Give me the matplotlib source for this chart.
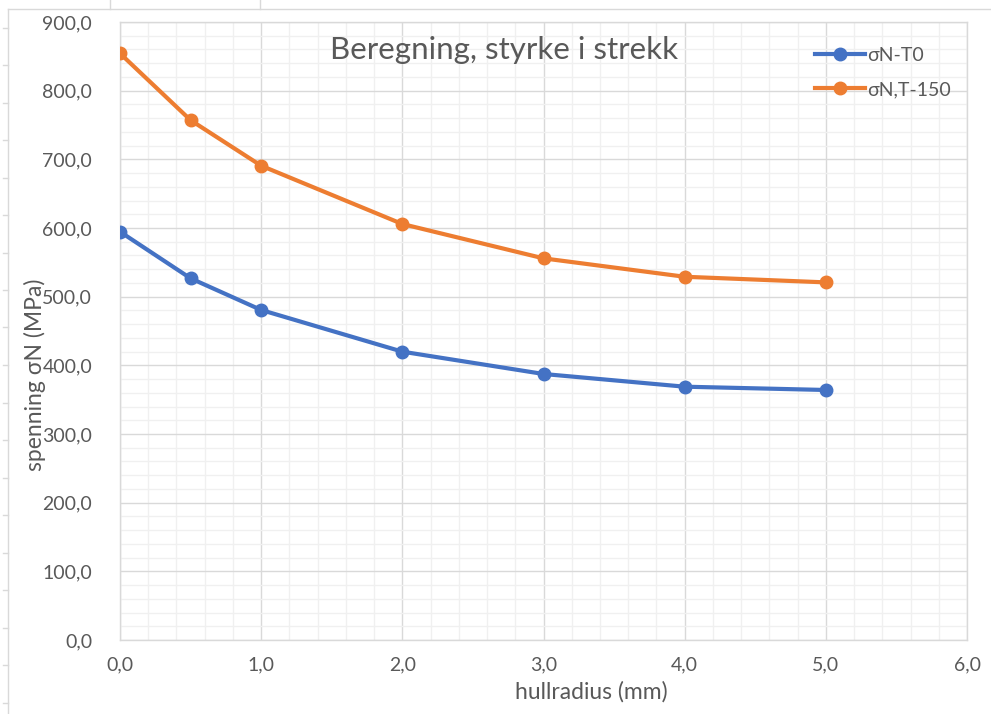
import matplotlib.pyplot as plt
import numpy as np
from matplotlib.ticker import MultipleLocator, FuncFormatter
from matplotlib.lines import Line2D

# hole radius (mm) and nominal stress (MPa)
radius = [0.0, 0.5, 1.0, 2.0, 3.0, 4.0, 5.0]
sigma_T0 = [594.6, 526.7, 480.6, 419.9, 387.4, 368.9, 364.1]
sigma_T150 = [854.3, 757.0, 690.7, 605.8, 555.8, 529.0, 520.8]
series_names = ['σN-T0', 'σN,T-150']

plt.rcParams['font.family'] = ['Lato', 'DejaVu Sans']
grey = '#595959'
W, H = 991, 714

fig = plt.figure(figsize=(W/100, H/100), dpi=100)
ax = fig.add_axes([120/W, 1-640/H, (967-120)/W, (640-22)/H])

ax.plot(radius, sigma_T0, '-o', color='#4472C4', lw=3, ms=9, label=series_names[0], zorder=3)
ax.plot(radius, sigma_T150, '-o', color='#ED7D31', lw=3, ms=9, label=series_names[1], zorder=3)

ax.set_xlim(0, 6)
ax.set_ylim(0, 900)
ax.xaxis.set_major_locator(MultipleLocator(1))
ax.xaxis.set_minor_locator(MultipleLocator(0.2))
ax.yaxis.set_major_locator(MultipleLocator(100))
ax.yaxis.set_minor_locator(MultipleLocator(20))
fmt = FuncFormatter(lambda v, p: f'{v:.1f}'.replace('.', ','))
ax.xaxis.set_major_formatter(fmt)
ax.yaxis.set_major_formatter(fmt)

ax.grid(which='major', color='#d9d9d9', lw=1)
ax.grid(which='minor', color='#f0f0f0', lw=1)
ax.set_axisbelow(True)
for s in ax.spines.values():
    s.set_color('#d9d9d9')
    s.set_linewidth(1)
ax.tick_params(which='both', length=0, colors=grey, labelsize=14)
ax.tick_params(axis='y', pad=20)
ax.tick_params(axis='x', pad=12)

fig.text(504/W, 1-50/H, 'Beregning, styrke i strekk', fontsize=22.5, color=grey,
         ha='center', va='center')
fig.text(591/W, 1-692/H, 'hullradius (mm)', fontsize=16.5, color=grey, ha='center', va='center')
fig.text(35/W, 1-375/H, 'spenning σN (MPa)', fontsize=16.5, color=grey, ha='center',
         va='center', rotation=90)

leg = ax.legend(loc='upper left', bbox_to_anchor=(807/W, 1-39/H), bbox_transform=fig.transFigure,
                frameon=False, fontsize=14, labelcolor=grey, handlelength=2.6,
                handletextpad=0.1, labelspacing=0.9, borderaxespad=0)

# sheet borders around the chart object
lc = '#d9d9d9'
fig.add_artist(Line2D([8/W, 8/W], [0, 1-9/H], color=lc, lw=1))
fig.add_artist(Line2D([8/W, 1], [1-9/H, 1-9/H], color=lc, lw=1))
for yp in np.arange(27.5, H, 37.5):
    fig.add_artist(Line2D([3/W, 8/W], [1-yp/H, 1-yp/H], color=lc, lw=1))
for xp in [110, 260]:
    fig.add_artist(Line2D([xp/W, xp/W], [1-9/H, 1], color=lc, lw=1))

fig.savefig('out.png', dpi=100)
